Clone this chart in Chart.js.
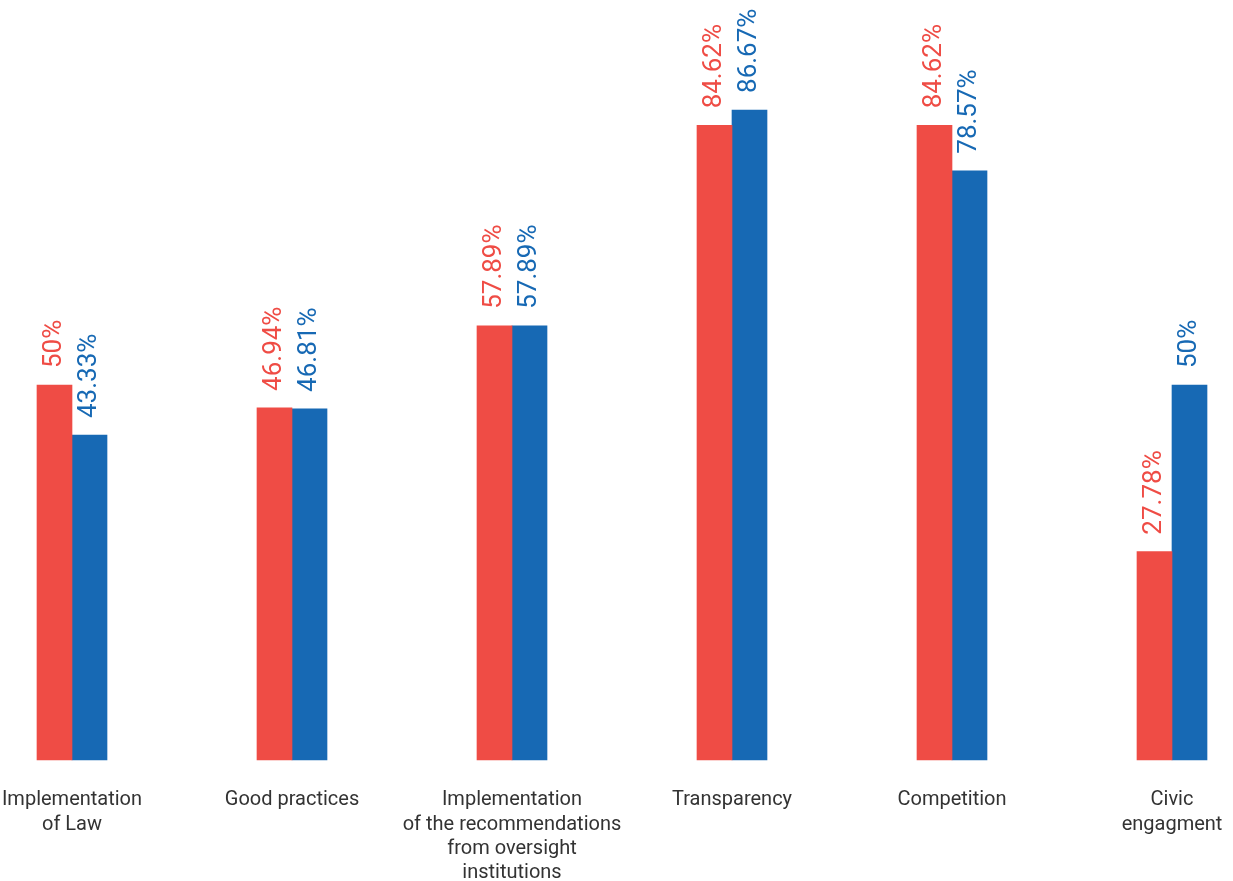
<!DOCTYPE html>
<html>
<head>
<meta charset="utf-8">
<script src="https://cdn.jsdelivr.net/npm/chart.js@4.4.1/dist/chart.umd.min.js"></script>
<style>
  html, body { margin: 0; padding: 0; background: #fff; }
  #wrap { width: 1233px; height: 881px; }
</style>
</head>
<body>
<div id="wrap"><canvas id="chart"></canvas></div>
<script>
// --- Data ---
const categories = [
    ['Implementation', 'of Law'],
    ['Good practices'],
    ['Implementation', 'of the recommendations', 'from oversight', 'institutions'],
    ['Transparency'],
    ['Competition'],
    ['Civic', 'engagment']
];
const redValues = [50, 46.94, 57.89, 84.62, 84.62, 27.78];
const blueValues = [43.33, 46.81, 57.89, 86.67, 78.57, 50];

const RED = '#ef4c45';
const BLUE = '#1769b4';

// value labels above each bar, rotated
const valueLabels = {
    id: 'valueLabels',
    afterDatasetsDraw(chart) {
        const ctx = chart.ctx;
        ctx.save();
        ctx.font = '400 26px Roboto';
        ctx.textAlign = 'left';
        ctx.textBaseline = 'middle';
        chart.data.datasets.forEach((ds, i) => {
            chart.getDatasetMeta(i).data.forEach((bar, j) => {
                ctx.save();
                ctx.translate(bar.x, bar.y - 17);
                ctx.rotate(-Math.PI / 2);
                ctx.fillStyle = ds.backgroundColor;
                ctx.fillText(ds.data[j] + '%', 0, 0);
                ctx.restore();
            });
        });
        ctx.restore();
    }
};

new Chart(document.getElementById('chart'), {
    type: 'bar',
    data: {
        labels: categories,
        datasets: [
            { label: 'A', data: redValues, backgroundColor: RED, barThickness: 35, clip: false },
            { label: 'B', data: blueValues, backgroundColor: BLUE, barThickness: 35, clip: false }
        ]
    },
    options: {
        responsive: true,
        maintainAspectRatio: false,
        animation: false,
        layout: { padding: { top: 10, left: 72, right: 61, bottom: 0 } },
        plugins: { legend: { display: false }, tooltip: { enabled: false } },
        scales: {
            x: {
                offset: false,
                grid: { display: false, drawTicks: false },
                border: { display: false },
                ticks: {
                    autoSkip: false,
                    maxRotation: 0,
                    padding: 28,
                    color: '#333',
                    font: { family: 'Roboto', size: 20, lineHeight: 1.22 }
                },
                afterFit(scale) {
                    // labels may hang outside the plot area
                    scale.paddingLeft = 0;
                    scale.paddingRight = 0;
                    scale.height = 121;
                }
            },
            y: {
                display: false,
                min: 0,
                max: 100
            }
        }
    },
    plugins: [valueLabels]
});
</script>
</body>
</html>
